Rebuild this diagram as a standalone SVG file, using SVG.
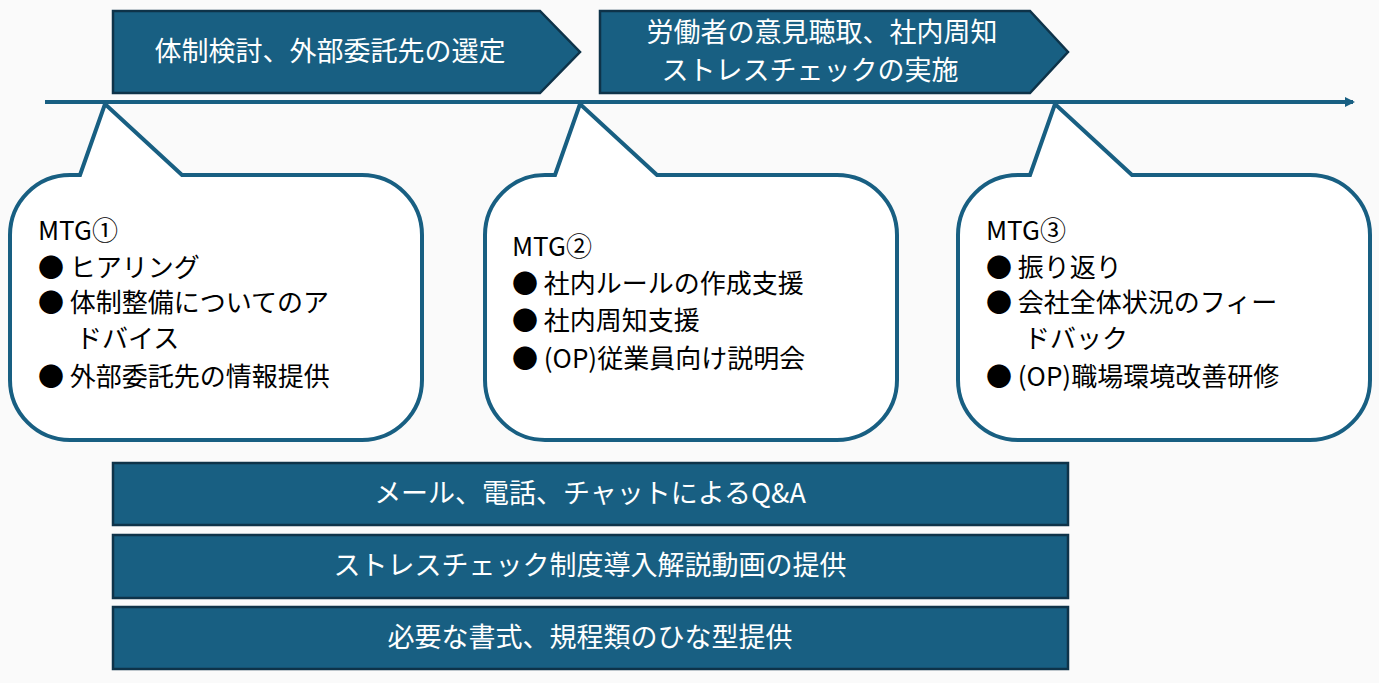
<svg xmlns="http://www.w3.org/2000/svg" width="1379" height="683" viewBox="0 0 1379 683">
<defs>
<style>
.bar{fill:#185f82;stroke:#0e3349;stroke-width:2.5}
.bt{fill:#fff;font-family:"Noto Sans CJK JP","Noto Sans",sans-serif;font-size:27px}
.co{fill:#fff;stroke:#185f82;stroke-width:4}
.ct{fill:#000;font-family:"Noto Sans CJK JP","Noto Sans",sans-serif;font-size:26px}
</style>
<marker id="ah" markerWidth="10" markerHeight="10" refX="8" refY="5" orient="auto" markerUnits="userSpaceOnUse"><path d="M0,0 L10,5 L0,10 z" fill="#185f82"/></marker>
</defs>
<rect width="1379" height="683" fill="#fafafa"/>
<g id="connectors"><line x1="45" y1="102" x2="1353" y2="102" stroke="#185f82" stroke-width="4" marker-end="url(#ah)"/></g>
<g id="phase1"><path class="bar" d="M113,11 H540 L580,52 L540,93 H113 Z"/><text class="bt" x="330" y="61" text-anchor="middle">体制検討、外部委託先の選定</text></g>
<g id="phase2"><path class="bar" d="M600,11 H1030 L1068,52 L1030,93 H600 Z"/><text class="bt" x="822" y="42" text-anchor="middle">労働者の意見聴取、社内周知</text><text class="bt" x="810" y="80" text-anchor="middle">ストレスチェックの実施</text></g>
<g id="mtg1"><path class="co" d="M80,175 L105,104 L182,175 H362 A60,60 0 0 1 422,235 V380 A60,60 0 0 1 362,440 H70 A60,60 0 0 1 10,380 V235 A60,60 0 0 1 70,175 Z"/>
<text class="ct" x="38" y="240">MTG①</text>
<text class="ct" x="38" y="277">●  ヒアリング</text>
<text class="ct" x="38" y="312">●  体制整備についてのア</text>
<text class="ct" x="76" y="348">ドバイス</text>
<text class="ct" x="38" y="386">●  外部委託先の情報提供</text></g>
<g id="mtg2"><path class="co" d="M555,175 L580,104 L657,175 H837 A60,60 0 0 1 897,235 V380 A60,60 0 0 1 837,440 H545 A60,60 0 0 1 485,380 V235 A60,60 0 0 1 545,175 Z"/>
<text class="ct" x="512" y="256">MTG②</text>
<text class="ct" x="512" y="293">●  社内ルールの作成支援</text>
<text class="ct" x="512" y="330">●  社内周知支援</text>
<text class="ct" x="512" y="368">●  (OP)従業員向け説明会</text></g>
<g id="mtg3"><path class="co" d="M1030,175 L1055,104 L1132,175 H1310 A60,60 0 0 1 1370,235 V380 A60,60 0 0 1 1310,440 H1018 A60,60 0 0 1 958,380 V235 A60,60 0 0 1 1018,175 Z"/>
<text class="ct" x="986" y="240">MTG③</text>
<text class="ct" x="986" y="277">●  振り返り</text>
<text class="ct" x="986" y="312">●  会社全体状況のフィー</text>
<text class="ct" x="1024" y="348">ドバック</text>
<text class="ct" x="986" y="386">●  (OP)職場環境改善研修</text></g>
<g id="qa"><rect class="bar" x="113" y="463" width="955" height="62"/><text class="bt" x="590" y="503" text-anchor="middle">メール、電話、チャットによるQ&amp;A</text></g>
<g id="video"><rect class="bar" x="113" y="535" width="955" height="63"/><text class="bt" x="590" y="575" text-anchor="middle">ストレスチェック制度導入解説動画の提供</text></g>
<g id="forms"><rect class="bar" x="113" y="607" width="955" height="62"/><text class="bt" x="590" y="647" text-anchor="middle">必要な書式、規程類のひな型提供</text></g>
</svg>
